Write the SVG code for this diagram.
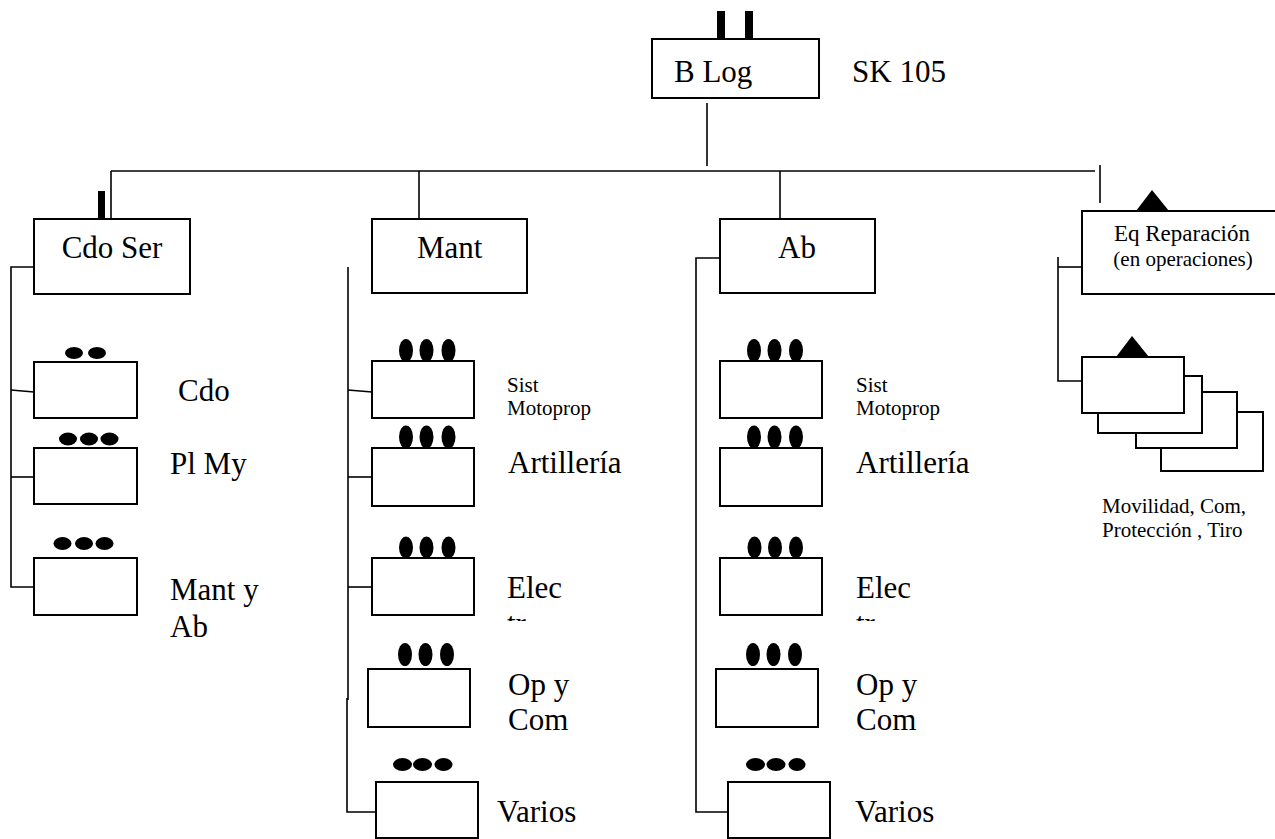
<svg xmlns="http://www.w3.org/2000/svg" width="1275" height="839" viewBox="0 0 1275 839">
<style>
.box{fill:#fff;stroke:#000;stroke-width:2}
.ln{fill:none;stroke:#000;stroke-width:1.6}
.dot{fill:#000}
.t{font-family:"Liberation Serif","Times New Roman",serif;font-size:31px;fill:#000}
.s{font-family:"Liberation Serif","Times New Roman",serif;font-size:21px;fill:#000}
</style>
<defs>
<clipPath id="clipElec1"><rect x="490" y="560" width="120" height="61"/></clipPath>
<clipPath id="clipElec2"><rect x="840" y="560" width="120" height="61"/></clipPath>
</defs>
<g id="connectors">
<line class="ln" x1="707" y1="103" x2="707" y2="166"/>
<line class="ln" x1="111" y1="171" x2="1095" y2="171"/>
<line class="ln" x1="111" y1="171" x2="111" y2="219"/>
<line class="ln" x1="419" y1="171" x2="419" y2="219"/>
<line class="ln" x1="780" y1="171" x2="780" y2="219"/>
<line class="ln" x1="1100" y1="165" x2="1100" y2="203"/>
<polyline class="ln" points="34,267 11,267 11,587 34,587"/>
<line class="ln" x1="11" y1="390" x2="34" y2="392"/>
<line class="ln" x1="11" y1="477" x2="34" y2="477"/>
<line class="ln" x1="348" y1="267" x2="348" y2="700"/>
<polyline class="ln" points="347,698 347,812 376,812"/>
<line class="ln" x1="348" y1="390" x2="372" y2="392"/>
<line class="ln" x1="348" y1="477" x2="372" y2="477"/>
<line class="ln" x1="348" y1="587" x2="372" y2="587"/>
<polyline class="ln" points="720,258 696,258 696,812 728,812"/>
<polyline class="ln" points="1082,267 1058,267"/>
<polyline class="ln" points="1058,257 1058,381 1082,381"/>
</g>
<g id="b-log">
<rect class="dot" x="717" y="11" width="8" height="28"/>
<rect class="dot" x="745" y="11" width="8" height="28"/>
<rect class="box" x="652" y="39" width="167" height="59"/>
<text class="t" x="674" y="82">B Log</text>
<text class="t" x="852" y="82">SK 105</text>
</g>
<g id="cdo-ser">
<rect class="dot" x="98" y="191" width="7" height="28"/>
<rect class="box" x="34" y="219" width="156" height="75"/>
<text class="t" x="112" y="258" text-anchor="middle">Cdo Ser</text>
</g>
<g id="cdo">
<ellipse class="dot" cx="74" cy="353" rx="9" ry="6"/>
<ellipse class="dot" cx="97" cy="353" rx="9" ry="6"/>
<rect class="box" x="34" y="362" width="103" height="56"/>
<text class="t" x="178" y="401">Cdo</text>
</g>
<g id="pl-my">
<ellipse class="dot" cx="68" cy="439" rx="9" ry="6.5"/>
<ellipse class="dot" cx="89" cy="439" rx="9" ry="6.5"/>
<ellipse class="dot" cx="109.5" cy="439" rx="9" ry="6.5"/>
<rect class="box" x="34" y="448" width="103" height="56"/>
<text class="t" x="170" y="474">Pl My</text>
</g>
<g id="mant-y-ab">
<ellipse class="dot" cx="62.5" cy="543.5" rx="9" ry="6.5"/>
<ellipse class="dot" cx="84" cy="543.5" rx="9" ry="6.5"/>
<ellipse class="dot" cx="104.5" cy="543.5" rx="9" ry="6.5"/>
<rect class="box" x="34" y="558" width="103" height="57"/>
<text class="t" x="170" y="600">Mant y</text>
<text class="t" x="170" y="637">Ab</text>
</g>
<g id="mant">
<rect class="box" x="372" y="219" width="155" height="74"/>
<text class="t" x="417" y="258">Mant</text>
</g>
<g id="mant-sist">
<ellipse class="dot" cx="406" cy="350.5" rx="7" ry="11.5"/>
<ellipse class="dot" cx="426.5" cy="350.5" rx="7" ry="11.5"/>
<ellipse class="dot" cx="448.5" cy="350.5" rx="7" ry="11.5"/>
<rect class="box" x="372" y="361" width="102" height="57"/>
<text class="s" x="507" y="392">Sist</text>
<text class="s" x="507" y="415">Motoprop</text>
</g>
<g id="mant-artilleria">
<ellipse class="dot" cx="406" cy="437" rx="7" ry="11.5"/>
<ellipse class="dot" cx="426.5" cy="437" rx="7" ry="11.5"/>
<ellipse class="dot" cx="448.5" cy="437" rx="7" ry="11.5"/>
<rect class="box" x="372" y="448" width="102" height="58"/>
<text class="t" x="508" y="473">Artillería</text>
</g>
<g id="mant-elec">
<ellipse class="dot" cx="406" cy="547.5" rx="7" ry="11"/>
<ellipse class="dot" cx="426.5" cy="547.5" rx="7" ry="11"/>
<ellipse class="dot" cx="448.5" cy="547.5" rx="7" ry="11"/>
<rect class="box" x="372" y="558" width="102" height="57"/>
<text class="t" x="507" y="598">Elec</text>
<text class="t" x="507" y="634" clip-path="url(#clipElec1)">tr</text>
</g>
<g id="mant-op-y-com">
<ellipse class="dot" cx="405" cy="654.5" rx="7" ry="11.5"/>
<ellipse class="dot" cx="425.5" cy="654.5" rx="7" ry="11.5"/>
<ellipse class="dot" cx="447" cy="654.5" rx="7" ry="11.5"/>
<rect class="box" x="368" y="669" width="102" height="58"/>
<text class="t" x="508" y="695">Op y</text>
<text class="t" x="508" y="730">Com</text>
</g>
<g id="mant-varios">
<ellipse class="dot" cx="402.5" cy="764.5" rx="9.5" ry="6.5"/>
<ellipse class="dot" cx="422.5" cy="764.5" rx="9.5" ry="6.5"/>
<ellipse class="dot" cx="443.5" cy="764.5" rx="9" ry="6.5"/>
<rect class="box" x="376" y="782" width="102" height="56"/>
<text class="t" x="497" y="822">Varios</text>
</g>
<g id="ab">
<rect class="box" x="720" y="219" width="155" height="74"/>
<text class="t" x="778" y="258">Ab</text>
</g>
<g id="ab-sist">
<ellipse class="dot" cx="754" cy="350.5" rx="7" ry="11.5"/>
<ellipse class="dot" cx="774.5" cy="350.5" rx="7" ry="11.5"/>
<ellipse class="dot" cx="796" cy="350.5" rx="7" ry="11.5"/>
<rect class="box" x="720" y="361" width="102" height="57"/>
<text class="s" x="856" y="392">Sist</text>
<text class="s" x="856" y="415">Motoprop</text>
</g>
<g id="ab-artilleria">
<ellipse class="dot" cx="754" cy="437" rx="7" ry="11.5"/>
<ellipse class="dot" cx="774.5" cy="437" rx="7" ry="11.5"/>
<ellipse class="dot" cx="796" cy="437" rx="7" ry="11.5"/>
<rect class="box" x="720" y="448" width="102" height="58"/>
<text class="t" x="856" y="473">Artillería</text>
</g>
<g id="ab-elec">
<ellipse class="dot" cx="754.5" cy="547.5" rx="7" ry="11"/>
<ellipse class="dot" cx="775" cy="547.5" rx="7" ry="11"/>
<ellipse class="dot" cx="796" cy="547.5" rx="7" ry="11"/>
<rect class="box" x="720" y="558" width="102" height="57"/>
<text class="t" x="856" y="598">Elec</text>
<text class="t" x="856" y="634" clip-path="url(#clipElec2)">tr</text>
</g>
<g id="ab-op-y-com">
<ellipse class="dot" cx="753" cy="654.5" rx="7" ry="11.5"/>
<ellipse class="dot" cx="773.5" cy="654.5" rx="7" ry="11.5"/>
<ellipse class="dot" cx="795" cy="654.5" rx="7" ry="11.5"/>
<rect class="box" x="716" y="669" width="102" height="58"/>
<text class="t" x="856" y="695">Op y</text>
<text class="t" x="856" y="730">Com</text>
</g>
<g id="ab-varios">
<ellipse class="dot" cx="755.5" cy="764.5" rx="9.5" ry="6.5"/>
<ellipse class="dot" cx="776" cy="764.5" rx="9.5" ry="6.5"/>
<ellipse class="dot" cx="797" cy="764.5" rx="8.5" ry="6.5"/>
<rect class="box" x="728" y="782" width="102" height="56"/>
<text class="t" x="855" y="822">Varios</text>
</g>
<g id="eq-reparacion">
<rect class="box" x="1082" y="211" width="210" height="83"/>
<polygon class="dot" points="1136,211 1152,190 1169,211"/>
<text class="s" x="1182" y="241" text-anchor="middle" style="font-size:23px">Eq Reparación</text>
<text class="s" x="1183" y="266" text-anchor="middle">(en operaciones)</text>
</g>
<g id="eq-stack">
<rect class="box" x="1161" y="412" width="102" height="59"/>
<rect class="box" x="1136" y="392" width="101" height="56"/>
<rect class="box" x="1098" y="376" width="104" height="57"/>
<rect class="box" x="1082" y="357" width="102" height="56"/>
<polygon class="dot" points="1116,357 1132,336 1149,357"/>
<text class="s" x="1102" y="513">Movilidad, Com,</text>
<text class="s" x="1102" y="537">Protección , Tiro</text>
</g>
</svg>
